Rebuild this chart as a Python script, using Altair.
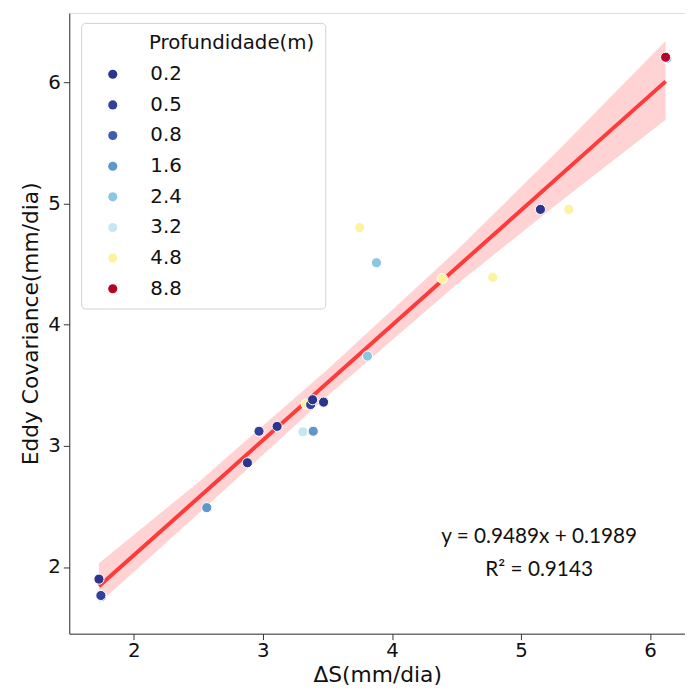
import altair as alt
import pandas as pd

# ---- data ----
delta_s = [1.73, 1.75, 1.745, 2.565, 2.88, 2.97, 3.11, 3.335, 3.37, 3.385, 3.47,
           3.31, 3.39, 3.75, 3.88, 3.81, 4.39, 4.78, 5.15, 5.37, 6.13, 6.12]
eddy_cov = [1.90, 1.755, 1.765, 2.49, 2.86, 3.12, 3.16, 3.345, 3.34, 3.38, 3.36,
            3.115, 3.12, 4.80, 4.51, 3.74, 4.38, 4.39, 4.95, 4.95, 6.195, 6.205]
depth = ["0.2", "2.4", "0.5", "1.6", "0.2", "0.5", "0.2", "4.8", "0.5", "0.2", "0.2",
         "3.2", "1.6", "4.8", "2.4", "2.4", "4.8", "4.8", "0.2", "4.8", "2.4", "8.8"]

depth_levels = ["0.2", "0.5", "0.8", "1.6", "2.4", "3.2", "4.8", "8.8"]
depth_colors = ["#2b3590", "#33409c", "#3e5db0", "#5e97ca", "#8cc6e2", "#c6e6f1",
                "#fcf2a0", "#b1062a"]

slope = 0.9489
intercept = 0.1989

band_x = [1.73, 2.5, 3.5, 4.5, 5.3, 6.12]
band_lo = [1.70, 2.44, 3.41, 4.33, 5.01, 5.69]
band_hi = [2.03, 2.70, 3.63, 4.61, 5.45, 6.34]

eq_text = ["y = 0.9489x + 0.1989", "R² = 0.9143"]
eq_x = [5.14, 5.14]
eq_y = [2.245, 1.975]

# ---- tables ----
pts = pd.DataFrame({"x": delta_s, "y": eddy_cov, "d": depth})
band = pd.DataFrame({"x": band_x, "lo": band_lo, "hi": band_hi})
line_df = pd.DataFrame({"x": [min(band_x), max(band_x)]})
eq_df = pd.DataFrame({"t": eq_text, "x": eq_x, "y": eq_y})

xs = alt.Scale(domain=[1.5, 6.27], nice=False, zero=False)
ys = alt.Scale(domain=[1.45, 6.57], nice=False, zero=False)

xaxis = alt.Axis(values=[2, 3, 4, 5, 6], format="d", grid=False, title="ΔS(mm/dia)",
                 labelFontSize=20, titleFontSize=22, titleFontWeight="normal",
                 tickSize=6, labelPadding=1, titlePadding=4,
                 domainColor="#333333", tickColor="#333333", labelColor="#111111",
                 titleColor="#111111")
yaxis = alt.Axis(values=[2, 3, 4, 5, 6], format="d", grid=False,
                 title="Eddy Covariance(mm/dia)",
                 labelFontSize=20, titleFontSize=22, titleFontWeight="normal",
                 tickSize=6, labelPadding=3, titlePadding=5,
                 domainColor="#333333", tickColor="#333333", labelColor="#111111",
                 titleColor="#111111")

band_layer = alt.Chart(band).mark_area(color="#ff8080", opacity=0.35).encode(
    x=alt.X("x:Q", scale=xs, axis=xaxis),
    y=alt.Y("lo:Q", scale=ys, axis=yaxis),
    y2="hi:Q",
)

line_layer = alt.Chart(line_df).transform_calculate(
    yy=f"datum.x * {slope} + {intercept}"
).mark_line(color="#ff3a3a", strokeWidth=4).encode(
    x=alt.X("x:Q", scale=xs),
    y=alt.Y("yy:Q", scale=ys),
)

pad = "\u2800" * 4
point_layer = alt.Chart(pts).mark_circle(size=105, opacity=1, stroke="white",
                                          strokeWidth=1).encode(
    x=alt.X("x:Q", scale=xs),
    y=alt.Y("y:Q", scale=ys),
    color=alt.Color("d:N",
                    scale=alt.Scale(domain=depth_levels, range=depth_colors),
                    sort=depth_levels,
                    legend=alt.Legend(
                        title=pad + "Profundidade(m)",
                        orient="none", legendX=12, legendY=10,
                        titleFontSize=20, titleFontWeight="normal",
                        titleLimit=500,
                        labelFontSize=20, titleColor="#111111",
                        labelColor="#111111",
                        symbolSize=85, symbolType="circle",
                        symbolStrokeWidth=0,
                        symbolOffset=12, labelOffset=28,
                        rowPadding=11, titlePadding=12, padding=10,
                        strokeColor="#d0d0d0", cornerRadius=4,
                        fillColor="white")),
)

text_layer = alt.Chart(eq_df).mark_text(font="Lato", fontSize=21,
                                        color="#111111", align="center",
                                        baseline="middle").encode(
    x=alt.X("x:Q", scale=xs),
    y=alt.Y("y:Q", scale=ys),
    text="t:N",
)

chart = alt.layer(band_layer, line_layer, point_layer, text_layer).properties(
    width=623, height=628,
    autosize=alt.AutoSizeParams(type="none"),
    padding={"left": 62, "top": 1, "right": 0, "bottom": 60},
).configure_view(stroke="#111111", strokeWidth=1.2).configure(
    font="DejaVu Sans"
)

chart.save("out.html", embed_options={"renderer": "svg", "actions": False})
